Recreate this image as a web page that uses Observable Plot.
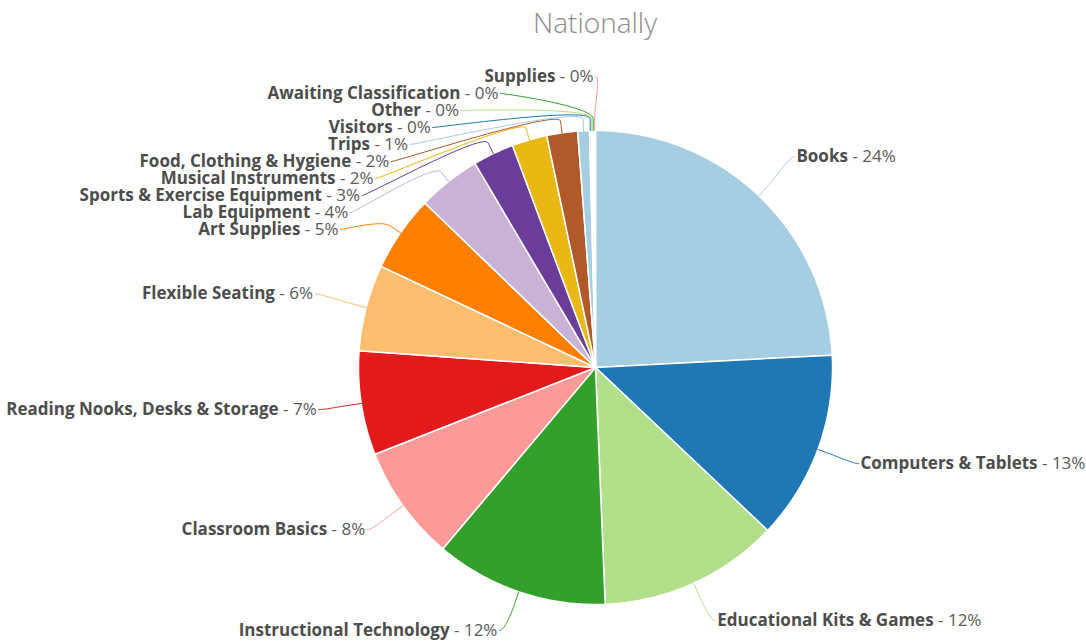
<!DOCTYPE html>
<html>
<head>
<meta charset="utf-8">
<script src="https://cdn.jsdelivr.net/npm/d3@7"></script>
<script src="https://cdn.jsdelivr.net/npm/@observablehq/plot@0.6"></script>
<style>
  html, body { margin: 0; padding: 0; background: #fff; }
  body { width: 1086px; height: 643px; overflow: hidden; font-family: "Open Sans", sans-serif; position: relative; }
  #title { position: absolute; left: 595px; top: 2px; transform: translateX(-50%); font-size: 28px; color: #8c8c8c; font-weight: 300; white-space: nowrap; line-height: 40px; }
  #chart { position: absolute; left: 0; top: 48px; }
</style>
</head>
<body>
<div id="title">Nationally</div>
<div id="chart"></div>
<script>
// ---- data ----
const categories = [
  "Books", "Computers & Tablets", "Educational Kits & Games", "Instructional Technology",
  "Classroom Basics", "Reading Nooks, Desks & Storage", "Flexible Seating", "Art Supplies",
  "Lab Equipment", "Sports & Exercise Equipment", "Musical Instruments", "Food, Clothing & Hygiene",
  "Trips", "Visitors", "Other", "Awaiting Classification", "Supplies"
];
const values = [24.2, 12.9, 12.3, 11.8, 7.9, 7.1, 5.9, 5.2, 4.3, 2.8, 2.4, 2.1, 0.8, 0.1, 0.1, 0.1, 0.1];
const colors = [
  "#a6cee3", "#1f78b4", "#b2df8a", "#33a02c", "#fb9a99", "#e31a1c", "#fdbf6f", "#ff7f00",
  "#cab2d6", "#6a3d9a", "#ebb813", "#b15928", "#a6cee3", "#1f78b4", "#b2df8a", "#33a02c", "#fb9a99"
];

// ---- layout ----
const W = 1086, H = 595;
const CX = 595, CY = 319, R = 237;
const SPACING = 17, TOP = CY - 291, BOTTOM = CY + 263;

const total = d3.sum(values);
const rows = categories.map((name, i) => ({name, value: values[i], color: colors[i], pct: Math.round(values[i] / total * 100)}));
const arcs = d3.pie().sort(null).value(d => d.value)(rows);

// slice polygons
const slicePts = [];
arcs.forEach(a => {
  const name = a.data.name, color = a.data.color;
  slicePts.push({name, color, x: CX, y: CY});
  const n = Math.max(2, Math.ceil((a.endAngle - a.startAngle) / 0.01));
  for (let k = 0; k <= n; k++) {
    const t = a.startAngle + (a.endAngle - a.startAngle) * k / n;
    slicePts.push({name, color, x: CX + R * Math.sin(t), y: CY - R * Math.cos(t)});
  }
  slicePts.push({name, color, x: CX, y: CY});
});

// label placement
const labels = arcs.map(a => {
  const mid = (a.startAngle + a.endAngle) / 2;
  const c = Math.cos(mid);
  const L = c > 0 ? 291 : 278;
  return {...a.data, mid, right: mid < Math.PI, iy: CY - L * c};
});

function distribute(items) {
  items.sort((a, b) => a.iy - b.iy || b.mid - a.mid);
  const clampStart = (s, n) => Math.max(TOP, Math.min(BOTTOM - (n - 1) * SPACING, s));
  const blocks = [];
  for (const it of items) {
    blocks.push({items: [it], start: clampStart(it.iy, 1)});
    while (blocks.length > 1) {
      const b = blocks[blocks.length - 1], a = blocks[blocks.length - 2];
      if (a.start + a.items.length * SPACING > b.start) {
        const its = a.items.concat(b.items);
        const s = d3.mean(its, (d, k) => d.iy - k * SPACING);
        blocks.splice(blocks.length - 2, 2, {items: its, start: clampStart(s, its.length)});
      } else break;
    }
  }
  for (const b of blocks) b.items.forEach((d, k) => { d.ly = b.start + k * SPACING; });
}
distribute(labels.filter(d => d.right));
distribute(labels.filter(d => !d.right));

labels.forEach(d => {
  const dy = d.ly - CY;
  const Lx = dy < 0 ? 290 : 280;
  const dx = Math.sqrt(Math.max(0, Lx * Lx - dy * dy));
  d.lx = CX + (d.right ? dx : -dx);
  d.tx = d.lx + (d.right ? 2 : -2);
});

// connectors (soft curve to break point, then line to slice edge)
const connPts = [];
labels.forEach(d => {
  const tA = {x: CX + R * Math.sin(d.mid), y: CY - R * Math.cos(d.mid)};
  const bA = {x: CX + (R + 12) * Math.sin(d.mid), y: CY - (R + 12) * Math.cos(d.mid)};
  const p0 = {x: d.lx, y: d.ly};
  const p1 = {x: d.lx + (d.right ? -5 : 5), y: d.ly};
  const p2 = {x: 2 * bA.x - tA.x, y: 2 * bA.y - tA.y};
  const p3 = bA;
  for (let k = 0; k <= 24; k++) {
    const t = k / 24, u = 1 - t;
    connPts.push({name: d.name, color: d.color,
      x: u*u*u*p0.x + 3*u*u*t*p1.x + 3*u*t*t*p2.x + t*t*t*p3.x,
      y: u*u*u*p0.y + 3*u*u*t*p1.y + 3*u*t*t*p2.y + t*t*t*p3.y});
  }
  connPts.push({name: d.name, color: d.color, x: tA.x, y: tA.y});
});

const svgns = "http://www.w3.org/2000/svg";
function richLabels(data) {
  return function(index, scales, values, dimensions, context, next) {
    const g = next(index, scales, values, dimensions, context);
    const texts = g.querySelectorAll("text");
    texts.forEach((t, j) => {
      const d = data[index[j]];
      t.textContent = "";
      const b = document.createElementNS(svgns, "tspan");
      b.setAttribute("font-weight", "bold");
      b.setAttribute("fill", "#4d4d4d");
      b.textContent = d.name;
      const p = document.createElementNS(svgns, "tspan");
      p.setAttribute("font-weight", "normal");
      p.setAttribute("fill", "#5a5a5a");
      p.textContent = " - " + d.pct + "%";
      t.append(b, p);
    });
    return g;
  };
}

const rightLabels = labels.filter(d => d.right);
const leftLabels = labels.filter(d => !d.right);

const plot = Plot.plot({
  width: W, height: H, margin: 0,
  x: {domain: [0, W], range: [0, W], axis: null},
  y: {domain: [0, H], range: [0, H], axis: null},
  style: {fontFamily: "'Open Sans', sans-serif", background: "white"},
  marks: [
    Plot.line(slicePts, {x: "x", y: "y", z: "name", fill: "color", stroke: "white", strokeWidth: 1.5, strokeLinejoin: "round", curve: "linear"}),
    Plot.line(connPts, {x: "x", y: "y", z: "name", stroke: "color", strokeWidth: 1, curve: "linear"}),
    Plot.text(rightLabels, {x: "tx", y: "ly", text: "name", textAnchor: "start", lineAnchor: "middle", fontSize: 17, fill: "#4d4d4d", render: richLabels(rightLabels)}),
    Plot.text(leftLabels, {x: "tx", y: "ly", text: "name", textAnchor: "end", lineAnchor: "middle", fontSize: 17, fill: "#4d4d4d", render: richLabels(leftLabels)})
  ]
});
document.getElementById("chart").appendChild(plot);
</script>
</body>
</html>
